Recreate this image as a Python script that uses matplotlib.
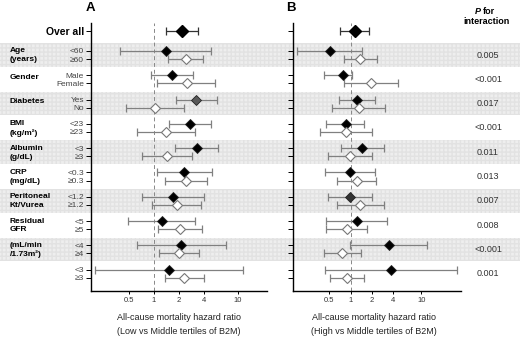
import numpy as np
import matplotlib
matplotlib.use("Agg")
import matplotlib.pyplot as plt

plt.rcParams['font.family'] = ['Liberation Sans', 'DejaVu Sans']

# subgroup labels (two rows per group)
sub_labels = [("<60", "≥60"), ("Male", "Female"), ("Yes", "No"), ("<23", "≥23"),
              ("<3", "≥3"), ("<0.3", "≥0.3"), ("<1.2", "≥1.2"), ("<5", "≥5"),
              ("<4", "≥4"), ("<3", "≥3")]
group_lines = [("Age", "(years)"), ("Gender",), ("Diabetes",), ("BMI", "(kg/m²)"),
               ("Albumin", "(g/dL)"), ("CRP", "(mg/dL)"), ("Peritoneal", "Kt/Vurea"),
               ("Residual", "GFR"), ("(mL/min", "/1.73m²)"), ()]
p_values = ["0.005", "<0.001", "0.017", "<0.001", "0.011", "0.013", "0.007", "0.008", "<0.001", "0.001"]
shaded_groups = [0, 2, 4, 6, 8]

# hazard ratio, lower and upper CI; first value = over all
a_hr = [2.14, 1.38, 2.41, 1.63, 2.46, 3.17, 1.03, 2.69, 1.38, 3.23, 1.42, 2.28, 2.41, 1.70, 1.87, 1.24, 2.04, 2.10, 1.99, 1.51, 2.28]
a_lo = [1.39, 0.39, 1.48, 0.91, 1.09, 1.83, 0.46, 1.52, 0.62, 1.80, 0.71, 1.08, 1.36, 0.72, 0.95, 0.49, 1.11, 0.62, 1.16, 0.20, 1.35]
a_hi = [3.33, 4.76, 3.88, 2.95, 5.40, 5.60, 2.30, 4.80, 3.11, 5.86, 2.82, 4.89, 4.26, 3.96, 3.64, 3.09, 3.71, 7.25, 3.48, 11.7, 3.96]

b_hr = [1.14, 0.51, 1.35, 0.79, 1.94, 1.23, 1.30, 0.85, 0.86, 1.46, 0.98, 0.98, 1.22, 0.98, 1.35, 1.22, 0.88, 3.47, 0.76, 3.71, 0.88]
b_lo = [0.71, 0.176, 0.80, 0.42, 0.81, 0.68, 0.54, 0.45, 0.37, 0.73, 0.48, 0.44, 0.65, 0.47, 0.63, 0.45, 0.45, 0.98, 0.42, 0.44, 0.51]
b_hi = [1.80, 1.46, 2.33, 1.03, 4.70, 2.23, 3.08, 1.56, 2.02, 2.96, 2.02, 2.20, 2.28, 1.98, 2.96, 3.23, 1.68, 12.1, 1.40, 31.5, 1.54]

xticks = [0.5, 1, 2, 4, 10]
xtick_labels = ["0.5", "1", "2", "4", "10"]


def upx(px):
    # figure pixel row -> row units
    return (px - 30.7) / 8.1


# row positions: over all at 0, groups every 3 units
ys = [0.0]
for k in range(len(sub_labels)):
    ys += [2.5 + 3 * k, 3.5 + 3 * k]
ys = np.array(ys)

fig = plt.figure(figsize=(5.2, 3.38), dpi=100)
bg = fig.add_axes([0, 0, 1, 1], zorder=0)
bg.set_xlim(0, 520)
bg.set_ylim(upx(338), upx(0))
bg.axis('off')

for k in shaded_groups:
    bg.axhspan(ys[1 + 2 * k] - 0.95, ys[2 + 2 * k] + 0.95, facecolor='#eeeeee',
               edgecolor='#e2e2e2', hatch='++++', lw=0)
plt.rcParams['hatch.linewidth'] = 0.3


def panel(left, right, hr, lo, hi, xlim, dark_rows, labels):
    ax = fig.add_axes([left / 520, 1 - 291 / 338, (right - left) / 520, (291 - 22.7) / 338], zorder=1)
    ax.patch.set_visible(False)
    ax.set_xscale('log')
    ax.set_xlim(*xlim)
    ax.set_ylim(upx(291), upx(22.7))
    ax.axvline(1, color='#888888', ls=(0, (4, 3)), lw=0.7, zorder=1)
    hr, lo, hi = np.array(hr), np.array(lo), np.array(hi)
    for i, y in enumerate(ys):
        ecol = '#333333' if i == 0 else '#808080'
        ax.errorbar(hr[i], y, xerr=[[hr[i] - lo[i]], [hi[i] - hr[i]]], fmt='none',
                    ecolor=ecol, elinewidth=0.9, capsize=2.8, capthick=0.9, zorder=2)
        if i == 0:
            ax.plot(hr[i], y, 'D', ms=6.5, color='black', zorder=3)
        elif i % 2 == 1:
            fc = dark_rows.get(i, 'black')
            ax.plot(hr[i], y, 'D', ms=5, mfc=fc, mec='#222222', mew=0.6, zorder=3)
        else:
            ax.plot(hr[i], y, 'D', ms=5, mfc='white', mec='#777777', mew=0.8, zorder=3)
    ax.set_xticks(xticks)
    ax.set_xticklabels(xtick_labels, fontsize=5.5, color='#333333')
    ax.xaxis.set_minor_locator(matplotlib.ticker.NullLocator())
    ax.set_yticks(ys)
    if labels:
        ax.set_yticklabels(["Over all"] + [s for pair in sub_labels for s in pair],
                           fontsize=6, color='#444444')
        t0 = ax.get_yticklabels()[0]
        t0.set_fontweight('bold')
        t0.set_fontsize(7.5)
        t0.set_color('black')
    else:
        ax.set_yticklabels([])
    ax.tick_params(axis='y', length=3.6, width=0.7, pad=1.5)
    ax.tick_params(axis='x', length=2.2, width=0.7, pad=2)
    for s in ['top', 'right']:
        ax.spines[s].set_visible(False)
    for s in ['left', 'bottom']:
        ax.spines[s].set_linewidth(1.0)
    return ax


panel(91, 267, a_hr, a_lo, a_hi, (2 ** -2.5, 2 ** 4.484), {5: '#5a5a5a'}, True)
panel(293.3, 460.7, b_hr, b_lo, b_hi, (2 ** -2.695, 2 ** 5.164), {13: '#333333'}, False)

# group names
for k, lines in enumerate(group_lines):
    y1, y2 = ys[1 + 2 * k], ys[2 + 2 * k]
    if len(lines) == 1:
        bg.text(10, (y1 + y2) / 2 - 0.2, lines[0], fontsize=6, fontweight='bold', va='center')
    elif len(lines) == 2:
        bg.text(10, y1, lines[0], fontsize=6, fontweight='bold', va='center')
        bg.text(10, y2 + 0.1, lines[1], fontsize=6, fontweight='bold', va='center')

# P for interaction
bg.text(481, upx(11), "P", fontsize=6.5, fontweight='bold', fontstyle='italic', ha='right', va='center')
bg.text(482.5, upx(11), "for", fontsize=6.5, fontweight='bold', ha='left', va='center')
bg.text(486, upx(21), "interaction", fontsize=6.5, fontweight='bold', ha='center', va='center')
for k, p in enumerate(p_values):
    bg.text(488, (ys[1 + 2 * k] + ys[2 + 2 * k]) / 2, p, fontsize=6.5, color='#333333', ha='center', va='center')

# panel letters and axis titles
bg.text(90, upx(8), "A", fontsize=9.5, fontweight='bold', ha='center', va='center')
bg.text(291, upx(8), "B", fontsize=9.5, fontweight='bold', ha='center', va='center')
bg.text(179, upx(317), "All-cause mortality hazard ratio", fontsize=6.5, color='#222222', ha='center', va='center')
bg.text(179, upx(332), "(Low vs Middle tertiles of B2M)", fontsize=6.5, color='#222222', ha='center', va='center')
bg.text(374, upx(317), "All-cause mortality hazard ratio", fontsize=6.5, color='#222222', ha='center', va='center')
bg.text(374, upx(332), "(High vs Middle tertiles of B2M)", fontsize=6.5, color='#222222', ha='center', va='center')

fig.savefig("out.png", dpi=100)
